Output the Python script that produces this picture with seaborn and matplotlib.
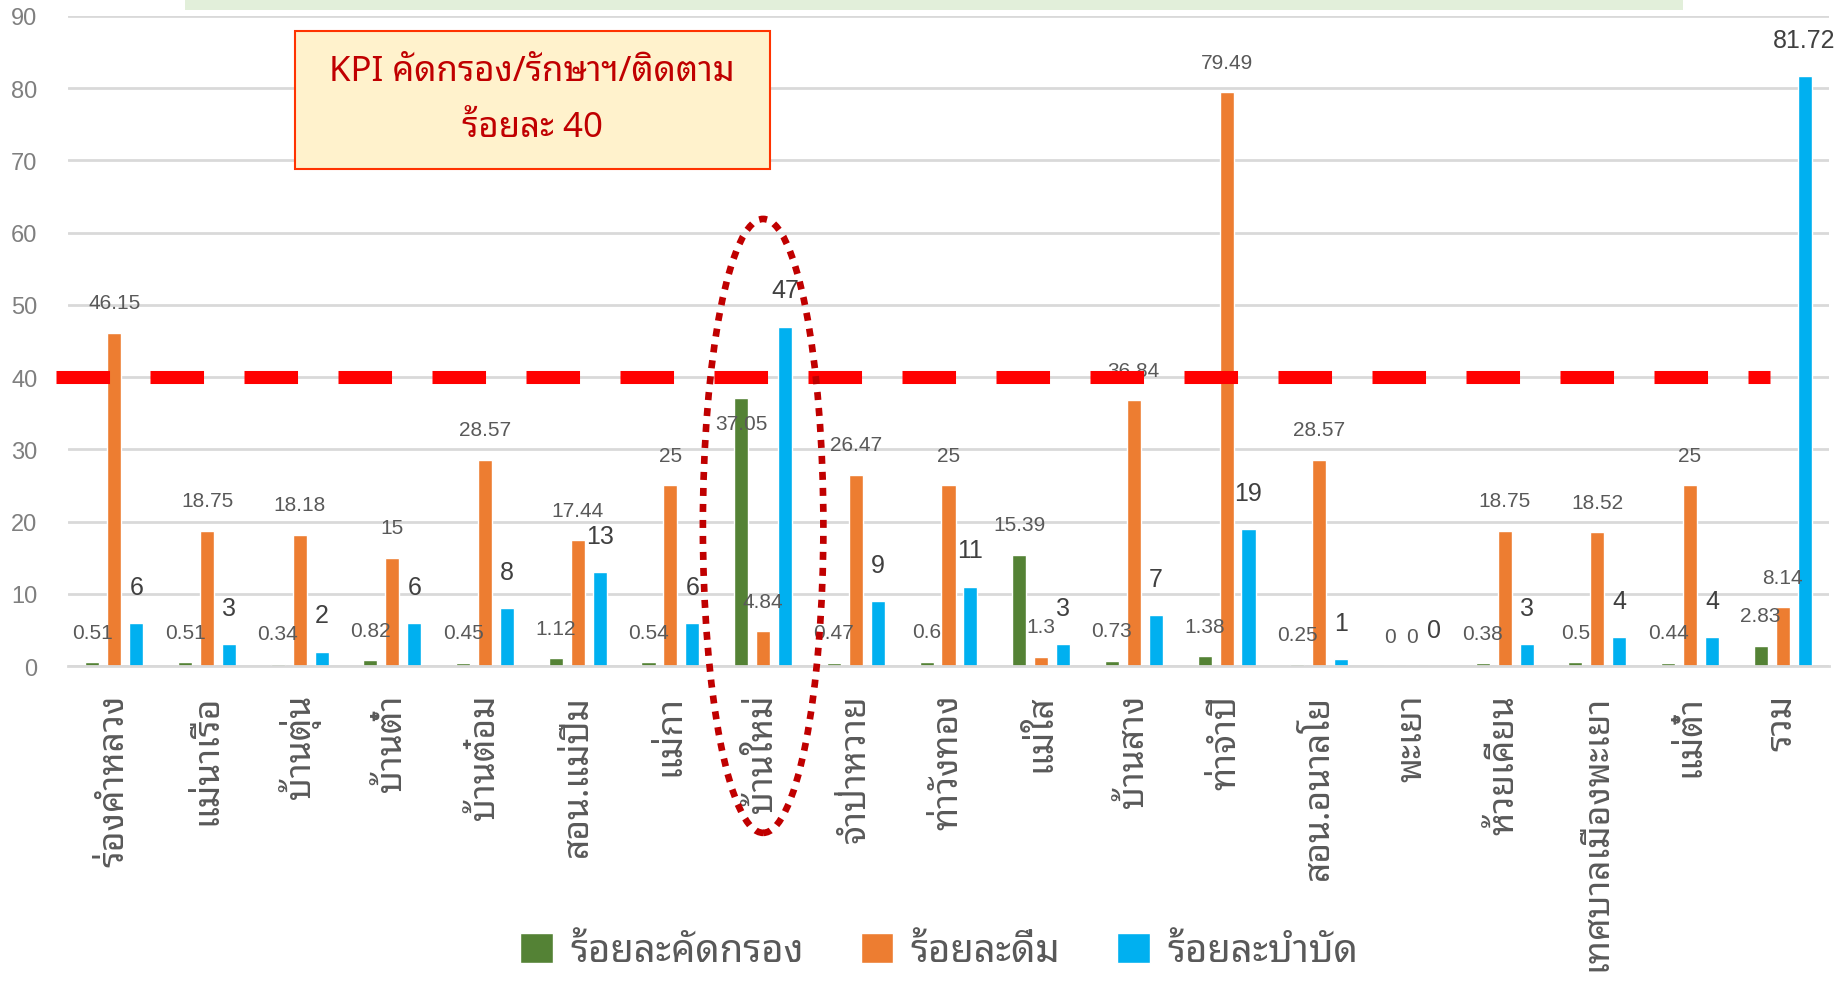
import pandas as pd
import matplotlib
matplotlib.use("Agg")
import matplotlib.pyplot as plt
import seaborn as sns
from matplotlib.patches import Ellipse, Rectangle

# ข้อมูล
districts = ["ร่องคำหลวง", "แม่นาเรือ", "บ้านตุ่น", "บ้านต๋ำ", "บ้านต๋อม", "สอน.แม่ปืม",
             "แม่กา", "บ้านใหม่", "จำป่าหวาย", "ท่าวังทอง", "แม่ใส", "บ้านสาง",
             "ท่าจำปี", "สอน.อนาลโย", "พะเยา", "ห้วยเคียน", "เทศบาลเมืองพะเยา",
             "แม่ต๋ำ", "รวม"]
screened = [0.51, 0.51, 0.34, 0.82, 0.45, 1.12, 0.54, 37.05, 0.47, 0.6, 15.39,
            0.73, 1.38, 0.25, 0, 0.38, 0.5, 0.44, 2.83]
drinking = [46.15, 18.75, 18.18, 15, 28.57, 17.44, 25, 4.84, 26.47, 25, 1.3,
            36.84, 79.49, 28.57, 0, 18.75, 18.52, 25, 8.14]
treated = [6, 3, 2, 6, 8, 13, 6, 47, 9, 11, 3, 7, 19, 1, 0, 3, 4, 4, 81.72]
series_names = ["ร้อยละคัดกรอง", "ร้อยละดื่ม", "ร้อยละบำบัด"]
kpi_target = 40

sns.set_theme(style="white")
THAI = ["Noto Sans Thai Looped", "DejaVu Sans"]
NUM = ["Liberation Sans", "DejaVu Sans"]
plt.rcParams["font.family"] = THAI

df = pd.DataFrame({
    "district": districts * 3,
    "series": sum([[s] * len(districts) for s in series_names], []),
    "value": screened + drinking + treated,
})

fig = plt.figure(figsize=(18.35, 9.87), dpi=100)
ax = fig.add_axes([68 / 1835, 320 / 987, 1761 / 1835, 650 / 987])

sns.barplot(data=df, x="district", y="value", hue="series",
            palette=["#548235", "#ED7D31", "#00B0F0"], width=0.71, gap=0.36,
            saturation=1, ax=ax)

ax.set_ylim(0, 90)
ax.set_yticks(range(0, 91, 10))
ax.set_xlabel("")
ax.set_ylabel("")
ax.yaxis.grid(True, color="#D9D9D9", lw=2)
ax.set_axisbelow(True)
for s in ["top", "right", "left"]:
    ax.spines[s].set_visible(False)
ax.spines["bottom"].set_color("#D9D9D9")
ax.spines["bottom"].set_linewidth(2)
ax.tick_params(axis="y", length=0, pad=22, labelsize=17, labelcolor="#7F7F7F")
ax.tick_params(axis="x", length=0, pad=20, labelsize=25.5, labelcolor="#595959")
for t in ax.get_yticklabels():
    t.set_family(NUM)
plt.setp(ax.get_xticklabels(), rotation=90, va="top", ha="center")

# ป้ายค่า
for i, cont in enumerate(ax.containers):
    big = i == 2
    for j, bar in enumerate(cont):
        h = bar.get_height()
        off = 26 if big else 21.5
        if i == 0 and j == 7:
            off = -18
        ax.annotate(f"{h:g}", (bar.get_x() + bar.get_width() / 2, h),
                    xytext=(0, off), textcoords="offset points",
                    ha="center", va="center", family=NUM,
                    fontsize=18 if big else 15,
                    color="#404040" if big else "#595959")

# เส้น KPI
ax.axhline(kpi_target, xmin=-12 / 1761, xmax=1702 / 1761, color="#FF0000",
           lw=9.4, dashes=(4.1, 3.1), solid_capstyle="butt",
           dash_capstyle="butt", clip_on=False, zorder=5)

# วงรีรอบบ้านใหม่
ax.add_patch(Ellipse((districts.index("บ้านใหม่"), 19.4), 1.3, 85,
                     fill=False, ec="#C00000", lw=4.8, ls=(0, (1.2, 1.2)),
                     clip_on=False, zorder=6))

# กล่อง KPI
fig.patches.append(Rectangle((295 / 1835, 1 - 170 / 987), 475 / 1835, 138 / 987,
                             transform=fig.transFigure, fc="#FFF2CC",
                             ec="#FF3300", lw=1.5, zorder=3))
fig.text(532 / 1835, 1 - 72 / 987, "KPI คัดกรอง/รักษาฯ/ติดตาม", ha="center",
         va="center", fontsize=25, color="#C00000", fontweight="bold", zorder=4)
fig.text(532 / 1835, 1 - 128 / 987, "ร้อยละ 40", ha="center",
         va="center", fontsize=25, color="#C00000", fontweight="bold", zorder=4)
fig.patches.append(Rectangle((185 / 1835, 1 - 11 / 987), 1498 / 1835, 11 / 987,
                             transform=fig.transFigure, fc="#E2EFDA", lw=0))

sns.move_legend(ax, "center", bbox_to_anchor=(939 / 1835, 1 - 952 / 987),
                bbox_transform=fig.transFigure, ncol=3,
                frameon=False, title=None, fontsize=27.5, handlelength=0.85,
                handleheight=0.85, columnspacing=1.5, handletextpad=0.45,
                labelcolor="#595959")

fig.savefig("out.png", dpi=100)
